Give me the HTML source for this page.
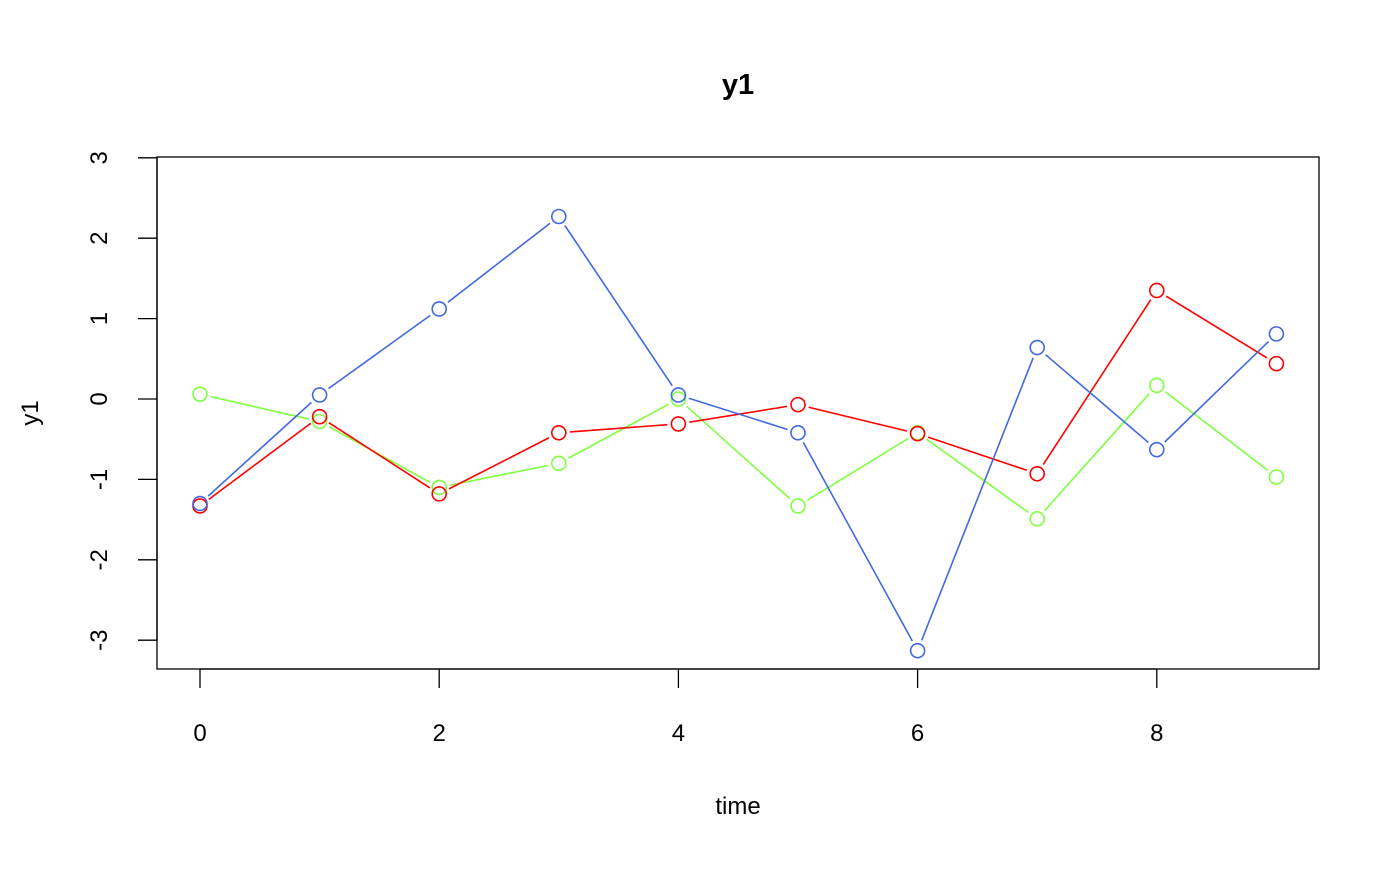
<!DOCTYPE html>
<html><head><meta charset="utf-8"><style>
body{margin:0;background:#fff}
svg text{font-family:"Liberation Sans",Arial,sans-serif}
</style></head><body>
<svg id="chart" width="1400" height="866" xmlns="http://www.w3.org/2000/svg">
<text x="738" y="94" font-size="29" font-weight="bold" text-anchor="middle">y1</text>
<rect x="157" y="157" width="1162" height="512" fill="none" stroke="#000" stroke-width="1.3"/>
<text x="738" y="814" font-size="24" text-anchor="middle">time</text>
<text transform="translate(38,413) rotate(-90)" font-size="24" text-anchor="middle">y1</text>
<g id="axes"></g>
<g id="series"></g>
</svg>
<script>
const times=[0,1,2,3,4,5,6,7,8,9];
const blueVals=[-1.3,0.05,1.12,2.27,0.05,-0.42,-3.13,0.64,-0.63,0.81];
const redVals=[-1.33,-0.22,-1.18,-0.42,-0.31,-0.07,-0.43,-0.93,1.35,0.44];
const greenVals=[0.06,-0.28,-1.1,-0.8,0.0,-1.33,-0.42,-1.49,0.17,-0.97];
const xTicks=[0,2,4,6,8];
const yTicks=[-3,-2,-1,0,1,2,3];
const NS="http://www.w3.org/2000/svg";
const xs=v=>200+v*119.6;
const ys=v=>399-v*80.4;
function mk(t,a,p){const e=document.createElementNS(NS,t);for(const k in a)e.setAttribute(k,a[k]);p.appendChild(e);return e;}
const ax=document.getElementById('axes');
mk('line',{x1:xs(0),x2:xs(8),y1:669,y2:669,stroke:'#000','stroke-width':1.3},ax);
xTicks.forEach(t=>{
  const l=mk('line',{x1:xs(t),x2:xs(t),y1:669,y2:688,stroke:'#000','stroke-width':1.3},ax);
  
  
  const tx=mk('text',{x:xs(t),y:741,'font-size':24,'text-anchor':'middle'},ax);
  tx.textContent=t;
  
  
});
mk('line',{x1:157,x2:157,y1:ys(-3),y2:ys(3),stroke:'#000','stroke-width':1.3},ax);
yTicks.forEach(t=>{
  const l=mk('line',{x1:138,x2:157,y1:ys(t),y2:ys(t),stroke:'#000','stroke-width':1.3},ax);
  
  
  const tx=mk('text',{transform:`translate(107,${ys(t)}) rotate(-90)`,'font-size':24,'text-anchor':'middle'},ax);
  tx.textContent=t;
  
  
});
const sg=document.getElementById('series');
function series(vals,col,name){
  const g=mk('g',{},sg);
  
  
  const gap=11;
  for(let i=0;i<vals.length-1;i++){
    const x1=xs(times[i]),y1=ys(vals[i]),x2=xs(times[i+1]),y2=ys(vals[i+1]);
    const d=Math.hypot(x2-x1,y2-y1);if(d<2*gap)continue;
    const ux=(x2-x1)/d,uy=(y2-y1)/d;
    const l=mk('line',{x1:x1+ux*gap,y1:y1+uy*gap,x2:x2-ux*gap,y2:y2-uy*gap,stroke:col,'stroke-width':1.6},g);
    
    
  }
  vals.forEach((v,i)=>{
    const c=mk('circle',{cx:xs(times[i]),cy:ys(v),r:7,fill:'none',stroke:col,'stroke-width':1.6},g);
    
    
  });
}
series(greenVals,'#80ff40','green-series');
series(redVals,'#ff0000','red-series');
series(blueVals,'#4169e1','blue-series');
</script>
</body></html>
